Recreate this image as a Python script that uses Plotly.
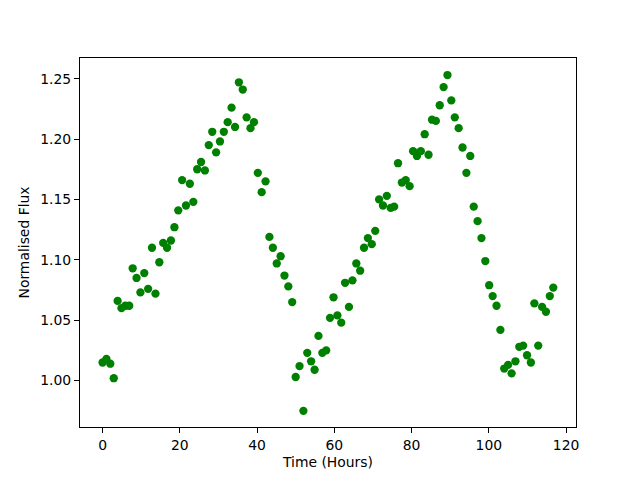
import plotly.graph_objects as go

time_hours = [
    0.0, 1.0, 2.0, 2.9, 3.9, 4.9, 5.9, 6.9, 7.8, 8.8,
    9.8, 10.8, 11.8, 12.8, 13.7, 14.7, 15.7, 16.7, 17.7, 18.6,
    19.6, 20.6, 21.6, 22.6, 23.5, 24.5, 25.5, 26.5, 27.5, 28.4,
    29.4, 30.4, 31.4, 32.4, 33.4, 34.3, 35.3, 36.3, 37.3, 38.3,
    39.2, 40.2, 41.2, 42.2, 43.2, 44.1, 45.1, 46.1, 47.1, 48.1,
    49.1, 50.0, 51.0, 52.0, 53.0, 54.0, 54.9, 55.9, 56.9, 57.9,
    58.9, 59.8, 60.8, 61.8, 62.8, 63.8, 64.7, 65.7, 66.7, 67.7,
    68.7, 69.7, 70.6, 71.6, 72.6, 73.6, 74.6, 75.5, 76.5, 77.5,
    78.5, 79.5, 80.4, 81.4, 82.4, 83.4, 84.4, 85.3, 86.3, 87.3,
    88.3, 89.3, 90.3, 91.2, 92.2, 93.2, 94.2, 95.2, 96.1, 97.1,
    98.1, 99.1, 100.1, 101.0, 102.0, 103.0, 104.0, 105.0, 105.9, 106.9,
    107.9, 108.9, 109.9, 110.9, 111.8, 112.8, 113.8, 114.8, 115.8, 116.7,
]

normalised_flux = [
    1.015, 1.018, 1.014, 1.002, 1.066, 1.060, 1.062, 1.062, 1.093, 1.085,
    1.073, 1.089, 1.076, 1.110, 1.072, 1.098, 1.114, 1.110, 1.116, 1.127,
    1.141, 1.166, 1.145, 1.163, 1.148, 1.175, 1.181, 1.174, 1.195, 1.206,
    1.189, 1.198, 1.206, 1.214, 1.226, 1.210, 1.247, 1.241, 1.218, 1.209,
    1.214, 1.172, 1.156, 1.165, 1.119, 1.110, 1.097, 1.103, 1.087, 1.078,
    1.065, 1.003, 1.012, 0.975, 1.023, 1.016, 1.009, 1.037, 1.023, 1.025,
    1.052, 1.069, 1.054, 1.048, 1.081, 1.061, 1.083, 1.097, 1.091, 1.110,
    1.118, 1.113, 1.124, 1.150, 1.145, 1.153, 1.143, 1.144, 1.180, 1.164,
    1.166, 1.161, 1.190, 1.186, 1.190, 1.204, 1.187, 1.216, 1.215, 1.228,
    1.243, 1.253, 1.232, 1.218, 1.209, 1.193, 1.172, 1.186, 1.144, 1.132,
    1.118, 1.099, 1.079, 1.070, 1.062, 1.042, 1.010, 1.013, 1.006, 1.016,
    1.028, 1.029, 1.021, 1.015, 1.064, 1.029, 1.061, 1.057, 1.070, 1.077,
]

x_ticks = [0, 20, 40, 60, 80, 100, 120]
y_ticks = [1.00, 1.05, 1.10, 1.15, 1.20, 1.25]
y_tick_labels = ["1.00", "1.05", "1.10", "1.15", "1.20", "1.25"]

fig = go.Figure()
fig.add_trace(go.Scatter(
    x=time_hours, y=normalised_flux, mode="markers",
    marker=dict(color="#008000", size=8.3, line=dict(width=0)),
    showlegend=False,
))

font = dict(family="DejaVu Sans", size=13.9, color="black")
axis_common = dict(
    showgrid=False, zeroline=False, showline=True, linecolor="black",
    linewidth=1.1, mirror=True, ticks="outside", ticklen=5, tickwidth=1.1,
    tickcolor="black", tickfont=font,
)

fig.update_layout(
    width=640, height=480,
    margin=dict(l=80, r=64, t=58, b=53, pad=0),
    paper_bgcolor="white", plot_bgcolor="white",
    font=font,
    xaxis=dict(range=[-5.84, 122.58], tickvals=x_ticks,
               title=dict(text="Time (Hours)", font=font, standoff=5),
               **axis_common),
    yaxis=dict(range=[0.9616, 1.2671], tickvals=y_ticks, ticktext=y_tick_labels,
               title=dict(text="Normalised Flux", font=font, standoff=7),
               **axis_common),
)

fig.write_html("out.html",
               config={"displayModeBar": False},
               post_script="document.body.style.margin='0';document.body.style.padding='0';")
